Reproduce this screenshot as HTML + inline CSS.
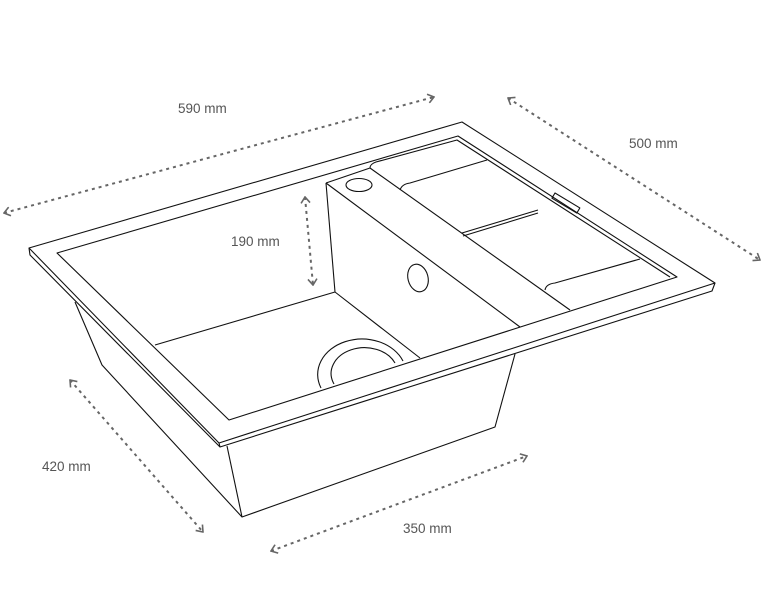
<!DOCTYPE html>
<html><head><meta charset="utf-8"><style>
html,body{margin:0;padding:0;background:#fff;}
svg{display:block;}
text{font-family:"Liberation Sans",sans-serif;font-size:13.5px;fill:#555;}
</style></head><body>
<svg width="764" height="606" viewBox="0 0 764 606" xmlns="http://www.w3.org/2000/svg">
<defs>
<marker id="a" viewBox="0 0 8 10" refX="7" refY="5" markerWidth="8" markerHeight="10" markerUnits="userSpaceOnUse" orient="auto-start-reverse">
<path d="M1,0.5 L7,5 L1,9.5" fill="none" stroke="#666" stroke-width="1.6"/>
</marker>
</defs>
<g fill="none" stroke="#111" stroke-width="1.1" stroke-linejoin="round">
<path d="M29,248 L462,122 L715,283 L712,291 L220,447 L219,443 L29,248 Z"/>
<path d="M29,248 L30,255 L220,447"/>
<path d="M219,443 L715,283"/>
<path d="M57,253 L458,136 L677,277 L229,420 Z"/>
<path d="M370,168 Q370,164 376,162 L457,140 L670,277"/>
<path d="M75,302 L102,365 L242,517 L495,427 L515,354"/>
<path d="M227,446 L242,517"/>
<path d="M155,345 L335,292 L420,358"/>
<path d="M326,183 L370,168"/>
<path d="M326,183 L335,292"/>
<path d="M326,183 L520,327"/>
<path d="M370,168 L570,310"/>
<ellipse cx="359" cy="185" rx="13" ry="6.5"/>
<ellipse cx="418" cy="278" rx="10" ry="14" transform="rotate(-15 418 278)"/>
<path d="M321,388 A40,32 0 0 1 403,361"/>
<path d="M334,384 A31,24 0 0 1 395,363"/>
<path d="M400,190 Q402,184 410,183 L487,160"/>
<path d="M462,233 L538,210 M463,236 L538,213"/>
<path d="M545,290 Q546,284 555,283 L640,259"/>
<rect x="555" y="193" width="29" height="6" transform="rotate(31 555 193)"/>
</g>
<g fill="none" stroke="#666" stroke-width="2" stroke-dasharray="3 4">
<line x1="4" y1="213" x2="434" y2="97" marker-start="url(#a)" marker-end="url(#a)"/>
<line x1="508" y1="98" x2="760" y2="260" marker-start="url(#a)" marker-end="url(#a)"/>
<line x1="305" y1="197" x2="313" y2="285" marker-start="url(#a)" marker-end="url(#a)"/>
<line x1="70" y1="380" x2="203" y2="532" marker-start="url(#a)" marker-end="url(#a)"/>
<line x1="271" y1="551" x2="527" y2="456" marker-start="url(#a)" marker-end="url(#a)"/>
</g>
<text x="178" y="113">590 mm</text>
<text x="629" y="148">500 mm</text>
<text x="231" y="246">190 mm</text>
<text x="42" y="471">420 mm</text>
<text x="403" y="533">350 mm</text>
</svg>
</body></html>
